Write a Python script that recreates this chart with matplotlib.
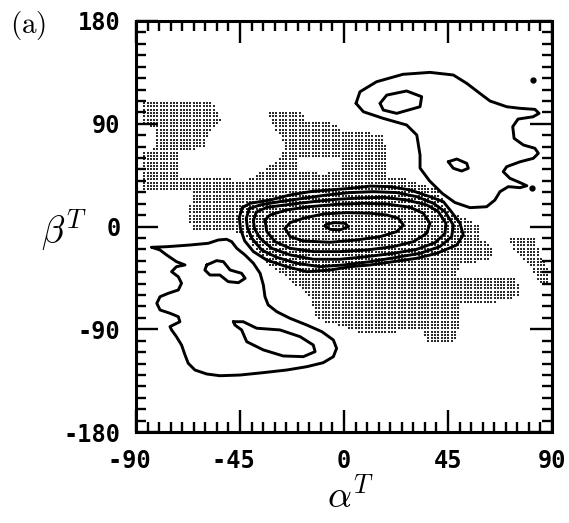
import numpy as np
import matplotlib
matplotlib.use("Agg")
import matplotlib.pyplot as plt
from matplotlib.path import Path
from matplotlib.ticker import MultipleLocator, FixedLocator, FixedFormatter

plt.rcParams['mathtext.fontset'] = 'cm'

# ---------------- data (alpha^T, beta^T in degrees) ----------------
# central peak: nested contour levels (innermost first)
c1_a = [-8.2, -6.0, -1.7, 1.9, 0.4, -3.9, -7.5]
c1_b = [0.5, -2.5, -3.0, -0.1, 2.8, 3.4, 2.2]

c2_a = [-25.5, -23.3, -17.6, -6.0, 5.5, 15.6, 22.8, 25.7, 23.5, 18.5, 11.3, 1.2, -8.9, -17.6, -23.3]
c2_b = [-1.6, -8.9, -12.7, -13.8, -11.8, -8.9, -4.5, 1.3, 7.2, 10.1, 11.6, 12.1, 11.0, 7.2, 3.4]

c3_a = [-34.2, -33.4, -29.8, -23.3, -13.2, -1.7, 9.8, 21.4, 30.0, 35.8, 37.2, 34.3, 28.6, 18.5, 8.4, -3.2, -14.7, -24.8, -32.0]
c3_b = [5.7, -4.5, -13.3, -19.1, -22.0, -22.0, -20.6, -17.6, -13.3, -6.0, 2.8, 11.6, 16.8, 19.7, 20.3, 19.4, 17.4, 14.5, 10.1]

c4_a = [-38.0, -39.2, -38.7, -36.3, -31.3, -23.3, -13.2, -1.7, 9.8, 21.4, 31.5, 39.4, 43.7, 44.1, 40.8, 35.8, 27.1, 17.0, 6.9, -3.2, -13.2, -23.3, -33.4]
c4_b = [12.5, 5.0, -2.0, -10.3, -19.1, -24.9, -28.7, -28.7, -26.4, -23.5, -20.0, -14.1, -6.0, 2.8, 13.0, 18.9, 23.2, 25.6, 25.0, 23.8, 21.8, 19.4, 16.8]

c5_a = [-41.0, -42.3, -41.8, -39.9, -35.6, -29.1, -20.5, -10.4, -0.3, 11.3, 22.8, 32.9, 41.5, 46.6, 47.3, 43.7, 38.7, 31.5, 22.8, 12.7, 2.6, -7.5, -17.6, -27.7, -36.3]
c5_b = [15.5, 7.0, -1.0, -10.3, -20.6, -27.0, -32.2, -35.2, -33.7, -30.8, -27.0, -23.5, -17.6, -8.9, 1.3, 13.0, 20.3, 26.1, 29.7, 30.5, 29.7, 27.6, 24.7, 21.8, 18.9]

c6_a = [-44.0, -45.3, -44.8, -43.0, -39.2, -33.5, -24.8, -16.1, -6.1, 2.6, 11.3, 21.3, 31.4, 40.1, 48.8, 51.6, 50.2, 45.9, 43.0, 37.2, 28.6, 19.9, 11.3, 2.6, -6.1, -14.7, -23.4, -32.0, -40.7]
c6_b = [16.5, 8.0, -2.0, -12.5, -22.0, -29.3, -35.2, -39.6, -38.2, -35.2, -33.7, -30.8, -27.9, -23.5, -16.2, -7.4, 2.8, 14.4, 21.7, 26.1, 32.0, 34.9, 35.4, 33.4, 32.0, 30.5, 27.6, 23.2, 20.3]

# upper-right basin
ur_a = [5.2, 6.9, 14.1, 25.5, 37.2, 47.3, 53.1, 58.8, 63.2, 70.4, 76.2, 82.6, 84.4, 81.8, 75.3, 73.0, 73.6, 77.6, 82.6, 84.1, 81.9, 76.2, 70.4, 68.9, 71.8, 76.9, 79.1, 76.2, 71.1, 67.5, 65.3, 61.7, 54.5, 48.0, 42.5, 37.0, 32.9, 32.9, 31.5, 27.1, 17.0, 8.4]
ur_b = [107.9, 118.0, 126.8, 133.3, 135.0, 132.7, 125.4, 116.6, 109.9, 104.9, 103.5, 102.6, 99.1, 96.1, 94.1, 87.4, 77.2, 71.4, 68.5, 64.1, 59.7, 56.7, 52.4, 48.0, 42.2, 37.8, 35.7, 34.0, 34.9, 30.5, 23.2, 17.3, 16.5, 21.0, 29.0, 40.0, 51.2, 62.6, 80.1, 88.9, 94.7, 100.5]
ur_in1_a = [15.6, 18.5, 27.1, 33.6, 32.9, 22.8, 17.0]
ur_in1_b = [107.9, 115.1, 118.7, 113.7, 104.9, 99.1, 102.0]
ur_in2_a = [45.1, 48.8, 53.1, 53.8, 50.9, 47.3]
ur_in2_b = [56.7, 59.1, 55.3, 51.0, 48.6, 51.0]
ur_spots_a = [81.8, 81.2]
ur_spots_b = [128.3, 33.4]

# lower-left basin
ll_a = [-83.2, -76.7, -66.6, -58.7, -54.4, -50.8, -48.6, -46.4, -42.8, -39.2, -36.3, -34.9, -34.2, -32.8, -29.1, -23.4, -16.1, -9.6, -4.6, -3.2, -4.6, -9.0, -16.1, -24.8, -34.9, -45.0, -53.7, -59.4, -64.5, -67.4, -68.8, -70.3, -72.5, -74.6, -75.3, -71.0, -71.7, -75.3, -79.6, -81.0, -79.6, -76.0, -71.7, -70.3, -71.7, -74.6, -72.5, -68.8, -72.5, -76.7, -79.6]
ll_b = [-18.2, -17.7, -16.2, -14.7, -11.8, -11.2, -13.3, -19.1, -25.0, -32.2, -41.0, -51.2, -61.5, -68.7, -74.6, -80.4, -86.3, -92.1, -99.4, -106.7, -114.0, -119.3, -122.8, -125.7, -128.0, -130.1, -130.7, -129.2, -125.7, -119.8, -112.5, -103.8, -96.5, -90.6, -87.7, -83.4, -79.0, -76.0, -73.1, -67.3, -61.5, -58.5, -55.6, -49.7, -44.0, -39.6, -35.2, -33.7, -30.8, -25.0, -20.6]
ll_in1_a = [-59.4, -55.1, -52.2, -49.3, -44.3, -42.8, -45.7, -50.1, -53.7, -58.0, -60.2]
ll_in1_b = [-33.7, -29.9, -30.8, -38.1, -41.0, -45.4, -49.2, -48.3, -42.5, -42.5, -38.1]
ll_in2_a = [-47.9, -43.6, -37.8, -27.7, -19.0, -13.3, -12.5, -17.6, -26.3, -34.9, -42.1, -44.3, -47.2]
ll_in2_b = [-83.4, -83.4, -89.1, -90.6, -96.5, -103.8, -109.6, -114.0, -113.4, -108.1, -100.9, -90.6, -86.3]

# stippled (shaded) region boundaries
shade_a = [-87, -57.4, -53.1, -58.8, -60.3, -71.8, -71.8, -41.5, -38.6, -28.6, -25.0, -30.0, -33.6, -18.5, -17.0, -2.6, -1.2, 17.6, 19.0, 29.1, 40.7, 44.4, 53.1, 58.8, 58.8, 65.3, 63.2, 50.2, 48.8, 74.7, 76.2, 67.5, 50.2, 50.2, 47.3, 35.8, 34.3, 22.8, 8.4, -0.3, -6.1, -11.8, -14.7, -23.4, -33.4, -37.8, -42.1, -48, -65, -67, -66, -87, -87, -81, -81, -87]
shade_b = [109.3, 110.8, 91.8, 83.0, 68.5, 65.5, 43.6, 40.7, 45.1, 58.2, 69.9, 87.4, 100.5, 101.4, 91.8, 90.4, 83.0, 81.6, 43.6, 40.7, 32.0, 14.4, 7.2, 1.3, -10.3, -20.6, -29.3, -33.7, -44.0, -45.4, -61.5, -65.8, -67.3, -87.7, -102.3, -102.3, -90.6, -92.1, -93.5, -87.7, -84.8, -81.9, -61.5, -46.8, -32.2, -20.6, -8.9, -4, -4, 5, 30, 32, 66, 68, 86, 90]
hole_a = [-19.9, -1.3, -1.3, -8.0, -19.9]
hole_b = [60.8, 60.8, 50.0, 46.8, 48.0]
patch_a = [71.8, 82.6, 84.8, 89.1, 89.1, 84.8, 79.2, 72.7]
patch_b = [-9.2, -8.3, -25.0, -38.1, -48.6, -49.5, -31.1, -20.6]

x_ticks = [-90, -45, 0, 45, 90]
x_labels = ['-90\u00a0', '-45\u00a0', '0', '45', '90']
y_ticks = [-180, -90, 0, 90, 180]
y_labels = ['-180', '-90', '0', '90', '180']

# ---------------- figure ----------------
W, H = 569, 523
fig = plt.figure(figsize=(W / 100, H / 100), dpi=100)
ax = fig.add_axes([136 / W, (H - 432) / H, 416 / W, 411 / H])
ax.set_xlim(-90, 90)
ax.set_ylim(-180, 180)

# stipple: halftone dots inside the shaded region
ga, gb = np.meshgrid(np.arange(-89.3, 90, 1.43), np.arange(-179, 180, 2.9))
pts = np.column_stack([ga.ravel(), gb.ravel()])
inside = Path(np.column_stack([shade_a, shade_b])).contains_points(pts)
inside &= ~Path(np.column_stack([hole_a, hole_b])).contains_points(pts)
inside |= Path(np.column_stack([patch_a, patch_b])).contains_points(pts)
ax.scatter(pts[inside, 0], pts[inside, 1], s=1.1, marker='s', c='#2a2a2a',
           linewidths=0, zorder=1)

def loop(a, b, lw=2.1):
    ax.plot(list(a) + [a[0]], list(b) + [b[0]], color='black', lw=lw,
            solid_joinstyle='round', solid_capstyle='round', zorder=3)

for a, b in [(c1_a, c1_b), (c2_a, c2_b), (c3_a, c3_b), (c4_a, c4_b),
             (c5_a, c5_b), (c6_a, c6_b), (ur_a, ur_b), (ur_in1_a, ur_in1_b),
             (ur_in2_a, ur_in2_b), (ll_a, ll_b), (ll_in1_a, ll_in1_b),
             (ll_in2_a, ll_in2_b)]:
    loop(a, b)
ax.plot(ur_spots_a, ur_spots_b, 'o', color='black', ms=3.5, zorder=3)

# ticks
for sp in ax.spines.values():
    sp.set_linewidth(2.2)
ax.xaxis.set_major_locator(FixedLocator(x_ticks))
ax.xaxis.set_major_formatter(FixedFormatter(x_labels))
ax.xaxis.set_minor_locator(MultipleLocator(5))
ax.yaxis.set_major_locator(FixedLocator(y_ticks))
ax.yaxis.set_major_formatter(FixedFormatter(y_labels))
ax.yaxis.set_minor_locator(MultipleLocator(10))
ax.tick_params(which='both', direction='in', top=True, right=True, width=1.7)
ax.tick_params(which='major', length=16)
ax.tick_params(which='minor', length=7)
ax.tick_params(axis='x', which='major', pad=12)
ax.tick_params(axis='y', which='major', pad=11)
for lab in ax.get_xticklabels() + ax.get_yticklabels():
    lab.set_fontfamily('DejaVu Sans Mono')
    lab.set_fontweight('bold')
    lab.set_fontsize(17)

fig.text(350 / W, 1 - 497 / H, r'$\alpha^T$', fontsize=27, ha='center', va='center')
fig.text(64 / W, 1 - 230 / H, r'$\beta^T$', fontsize=27, ha='center', va='center')
fig.text(28 / W, 1 - 26 / H, r'$\mathrm{(a)}$', fontsize=21, ha='center', va='center')

fig.savefig('out.png', dpi=100)
